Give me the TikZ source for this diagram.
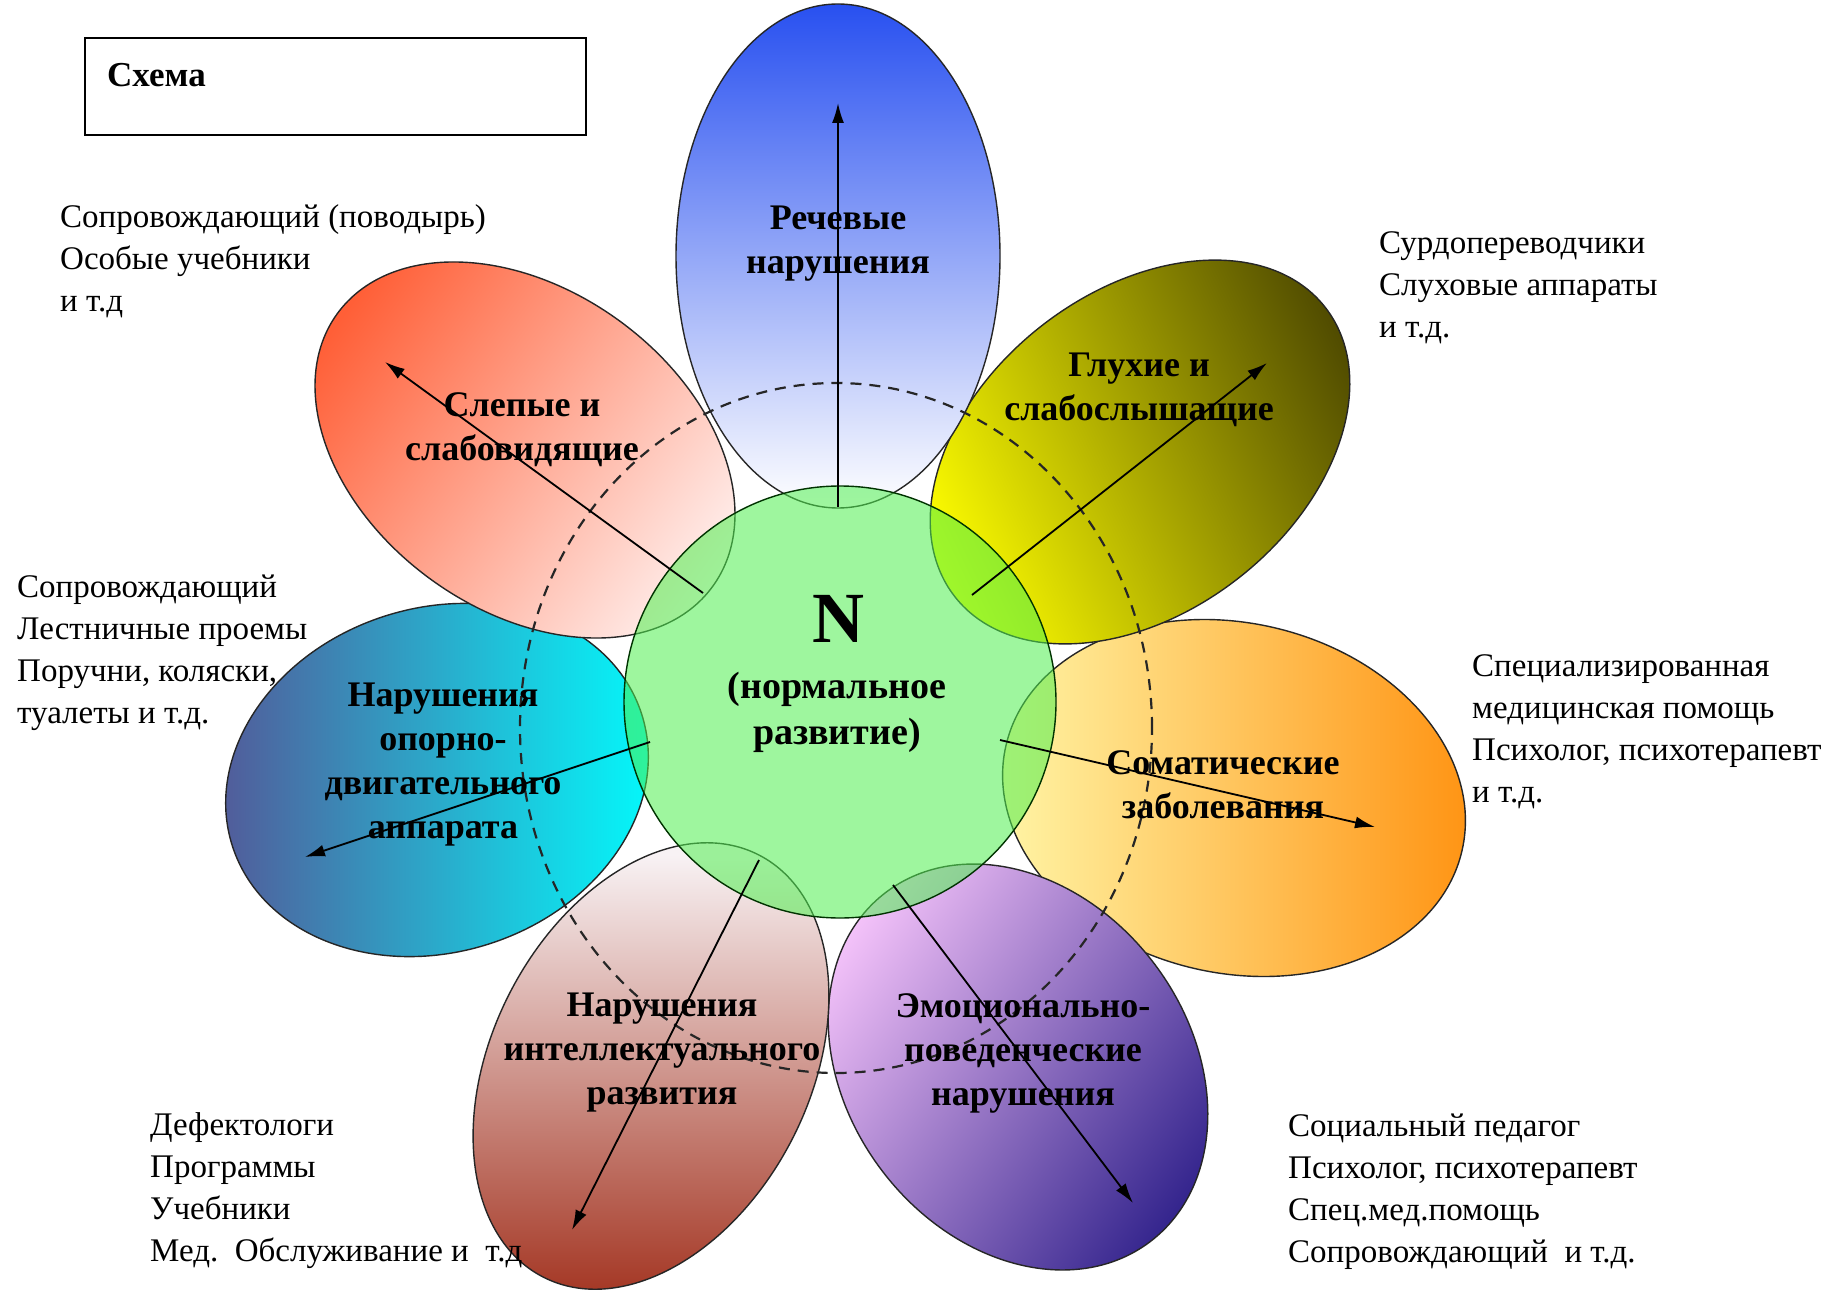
\documentclass[tikz,border=0pt]{standalone}
\usepackage{fontspec}
\setmainfont{Liberation Serif}
\usetikzlibrary{arrows.meta,shapes.geometric}
\definecolor{blueO}{RGB}{40,80,240}
\definecolor{blueI}{RGB}{255,255,255}
\definecolor{redO}{RGB}{255,95,55}
\definecolor{redI}{RGB}{255,240,238}
\definecolor{yelI}{RGB}{255,255,0}
\definecolor{yelO}{RGB}{80,75,0}
\definecolor{orI}{RGB}{255,248,170}
\definecolor{orO}{RGB}{255,145,15}
\definecolor{cyI}{RGB}{0,255,255}
\definecolor{cyO}{RGB}{85,85,150}
\definecolor{brI}{RGB}{248,242,244}
\definecolor{brO}{RGB}{160,45,25}
\definecolor{puI}{RGB}{245,195,250}
\definecolor{puO}{RGB}{50,35,140}
\definecolor{grn}{RGB}{80,240,80}
\begin{document}
\begin{tikzpicture}[x=1pt,y=-1pt,
  petal/.style={ellipse, draw=black!85, line width=1.4pt, inner sep=0pt},
  arr/.style={line width=1.8pt, -{Latex[length=20pt,width=12pt]}},
  lbl/.style={font=\bfseries\fontsize{36}{44}\selectfont, align=center, inner sep=0pt},
  side/.style={font=\fontsize{33}{42}\selectfont, align=left, anchor=west, inner sep=0pt},
]
\fill[white] (0,0) rectangle (1830,1305);
\useasboundingbox (0,0) rectangle (1830,1305);

% title box
\node[draw, line width=2pt, minimum width=501pt, minimum height=97pt, inner sep=0pt] (box) at (335.5,86.5) {};
\node[font=\bfseries\fontsize{35}{40}\selectfont, anchor=west, inner sep=0pt] (title) at (107,75) {Схема};

% petals (shading angles are page directions)
\node[petal, minimum width=430pt, minimum height=344pt, rotate=198, top color=cyO, bottom color=cyI, shading angle=90] (pCy) at (437,780) {};
\node[petal, minimum width=468pt, minimum height=350pt, rotate=-13, top color=orO, bottom color=orI, shading angle=-90] (pOr) at (1234,798) {};
\node[petal, minimum width=438pt, minimum height=342pt, rotate=-53, top color=puO, bottom color=puI, shading angle=-125] (pPu) at (1018,1067) {};
\node[petal, minimum width=474pt, minimum height=318pt, rotate=243, top color=brO, bottom color=brI, shading angle=180] (pBr) at (651,1066) {};
\node[petal, minimum width=464pt, minimum height=320pt, rotate=144, top color=redO, bottom color=redI, shading angle=54] (pRed) at (525,450) {};
\node[petal, minimum width=470pt, minimum height=320pt, rotate=38, top color=yelO, bottom color=yelI, shading angle=-65] (pYel) at (1140,452) {};
\node[petal, minimum width=504pt, minimum height=324pt, rotate=90, top color=blueO, bottom color=blueI, shading angle=0] (pBlue) at (838,256) {};

% centre
\node[circle, draw=black!80!green, line width=1.4pt, fill=grn, fill opacity=0.55, minimum size=432pt, inner sep=0pt] (ctr) at (840,702) {};

% dashed ring
\node[ellipse, draw=black!85, dash pattern=on 11pt off 8pt, line width=2.2pt, minimum width=632pt, minimum height=690pt, inner sep=0pt] (ring) at (836,728) {};

% arrow ends
\coordinate (tBlue) at (838,507);  \coordinate (hBlue) at (838,103);
\coordinate (tRed) at (703,593);   \coordinate (hRed) at (385,362);
\coordinate (tYel) at (972,595);   \coordinate (hYel) at (1267,363);
\coordinate (tCy) at (650,742);    \coordinate (hCy) at (305,857);
\coordinate (tOr) at (1000,740);   \coordinate (hOr) at (1375,827);
\coordinate (tBr) at (759,860);    \coordinate (hBr) at (572,1230);
\coordinate (tPu) at (893,885);    \coordinate (hPu) at (1133,1203);
\draw[arr] (tBlue) -- (hBlue);
\draw[arr] (tRed) -- (hRed);
\draw[arr] (tYel) -- (hYel);
\draw[arr] (tCy) -- (hCy);
\draw[arr] (tOr) -- (hOr);
\draw[arr] (tBr) -- (hBr);
\draw[arr] (tPu) -- (hPu);

% labels
\node[lbl] (lBlue) at (838,244) {Речевые\\нарушения};
\node[lbl] (lRed) at (522,430) {Слепые и\\слабовидящие};
\node[lbl] (lYel) at (1139,390) {Глухие и\\слабослышащие};
\node[lbl] (lCy) at (443,765) {Нарушения\\опорно-\\двигательного\\аппарата};
\node[lbl] (lOr) at (1223,785) {Соматические\\заболевания};
\node[lbl] (lBr) at (662,1053) {Нарушения\\интеллектуального\\развития};
\node[lbl] (lPu) at (1023,1053) {Эмоционально-\\поведенческие\\нарушения};
\node[font=\bfseries\fontsize{72}{74}\selectfont, inner sep=0pt] (lN) at (838,619) {N};
\node[lbl, font=\bfseries\fontsize{38}{46}\selectfont] (lNorm) at (837,712) {(нормальное\\развитие)};

% side texts
\node[side] (sUL) at (60,261) {Сопровождающий (поводырь)\\Особые учебники\\и т.д};
\node[side] (sUR) at (1379,288) {Сурдопереводчики\\Слуховые аппараты\\и т.д.};
\node[side] (sL) at (17,653) {Сопровождающий\\Лестничные проемы\\Поручни, коляски,\\туалеты и т.д.};
\node[side] (sR) at (1472,732) {Специализированная\\медицинская помощь\\Психолог, психотерапевт\\и т.д.};
\node[side] (sBL) at (150,1191) {Дефектологи\\Программы\\Учебники\\Мед.\ \ Обслуживание и\ \ т.д};
\node[side] (sBR) at (1288,1192) {Социальный педагог\\Психолог, психотерапевт\\Спец.мед.помощь\\Сопровождающий\ \ и т.д.};
\end{tikzpicture}
\end{document}
